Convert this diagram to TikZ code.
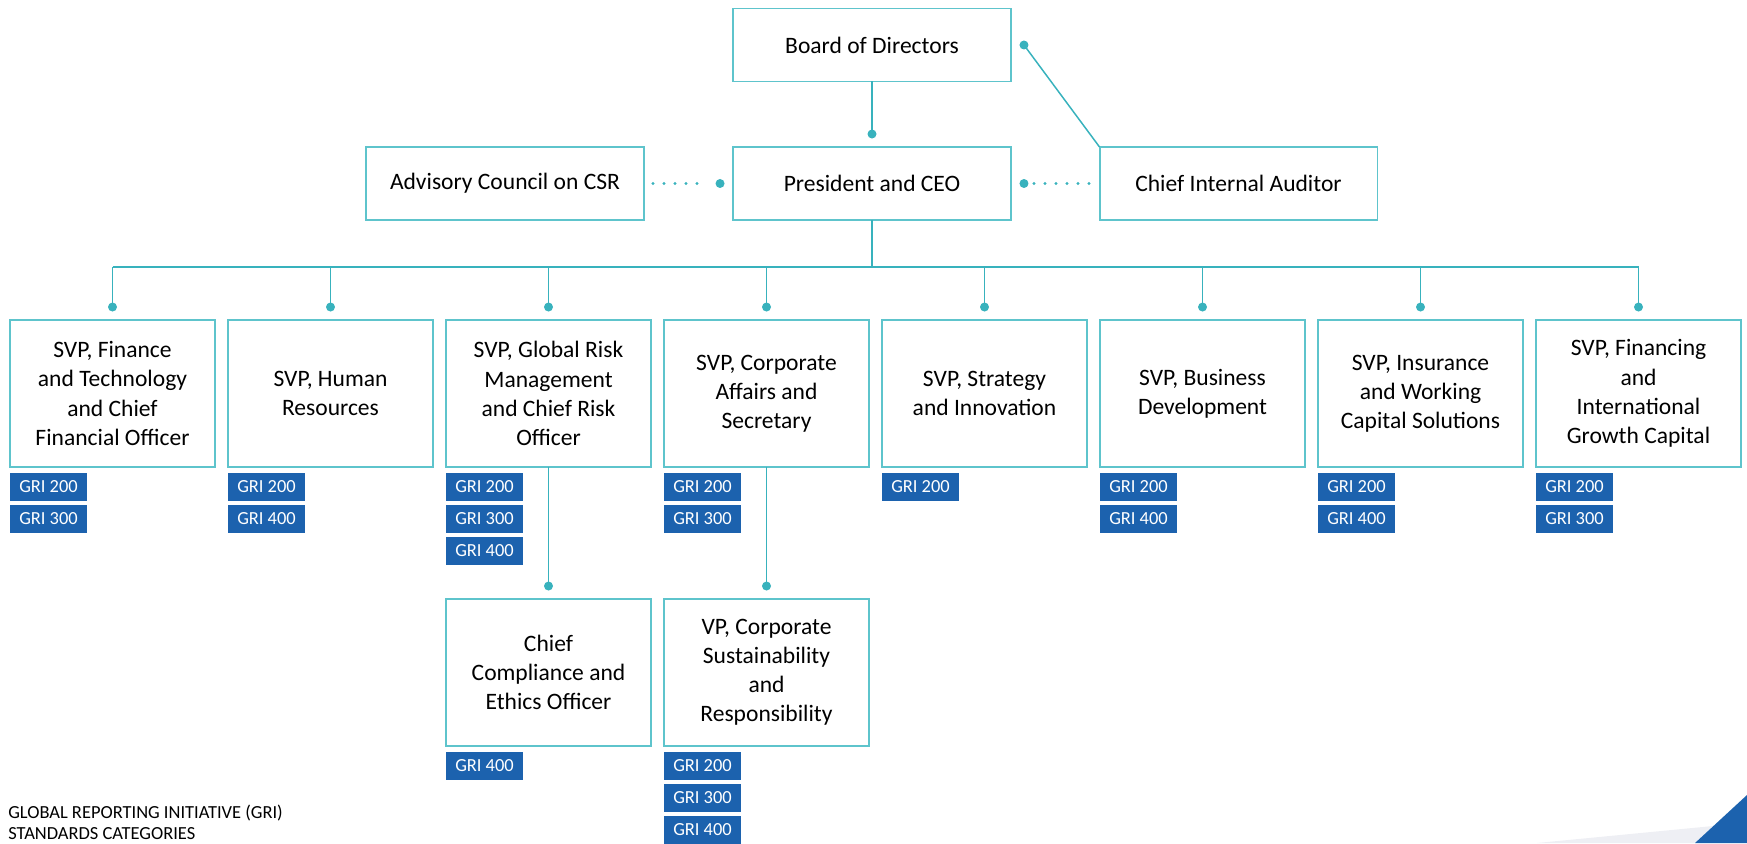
\documentclass[tikz,border=0pt]{standalone}
\usepackage{fontspec}
\setmainfont{Carlito}
\usetikzlibrary{positioning}
\definecolor{orgteal}{HTML}{38B2BD}
\definecolor{orgframe}{HTML}{5EC4CC}
\definecolor{grib}{HTML}{1C62AE}
\definecolor{wedge}{HTML}{EEEFF4}

\begin{document}
\begin{tikzpicture}[x=0.02cm,y=0.02cm,
    unit/.style={draw=orgframe, line width=1.1pt, fill=white, align=center, inner sep=0pt, outer sep=0pt, font=\fontsize{13.4}{16.6}\selectfont},
    topunit/.style={unit, minimum width=5.56cm, minimum height=1.46cm},
    svpunit/.style={unit, minimum width=4.1cm, minimum height=2.94cm},
    gri/.style={fill=grib, text=white, minimum width=1.54cm, minimum height=0.56cm, inner sep=0pt, outer sep=0pt, font=\fontsize{10.5}{12}\selectfont},
    knob/.style={circle, fill=orgteal, inner sep=0pt, minimum size=0.18cm},
    link/.style={draw=orgteal, line width=0.85pt},
    dots/.style={draw=orgteal, line width=1.8pt, line cap=round, dash pattern=on 0pt off 0.22cm}]
    \useasboundingbox (0,0) rectangle (1747,843);
    % corner mark
    \fill[wedge] (1537,0) -- (1713,17) -- (1695,0) -- cycle;
    \fill[grib] (1695,0) -- (1747,48) -- (1747,0) -- cycle;

    \node[topunit] (board) at (872,798) {Board of Directors};
    \node[topunit] (ceo) at (872,659.5) {President and CEO};
    \node[topunit] (csr) at (505,659.5) {Advisory Council on CSR};
    \node[topunit] (audit) at (1238.5,659.5) {Chief Internal Auditor};

    \node[knob] (kceo) at ([yshift=0.26cm]ceo.north) {};
    \node[knob] (kcsr) at ([xshift=-0.26cm]ceo.west) {};
    \node[knob] (kaudit) at ([xshift=0.26cm]ceo.east) {};
    \node[knob] (kboard) at ([xshift=0.26cm]board.east) {};
    \draw[link] (board.south) -- (kceo.center);
    \draw[link] (kboard.center) -- (audit.north west);
    \draw[dots] ([xshift=0.18cm]csr.east) -- ([xshift=-0.28cm]kcsr.center);
    \draw[dots] ([xshift=0.2cm]kaudit.center) -- ([xshift=-0.2cm]audit.west);

    % senior vice presidents
    \node[svpunit] (fin) at (112.5,449.5) {SVP, Finance\\and Technology\\and Chief\\Financial Officer};
    \node[svpunit] (hr) at (330.5,449.5) {SVP, Human\\Resources};
    \node[svpunit] (risk) at (548.5,449.5) {SVP, Global Risk\\Management\\and Chief Risk\\Officer};
    \node[svpunit] (corp) at (766.5,449.5) {SVP, Corporate\\Affairs and\\Secretary};
    \node[svpunit] (strat) at (984.5,449.5) {SVP, Strategy\\and Innovation};
    \node[svpunit] (biz) at (1202.5,449.5) {SVP, Business\\Development};
    \node[svpunit] (ins) at (1420.5,449.5) {SVP, Insurance\\and Working\\Capital Solutions};
    \node[svpunit] (intl) at (1638.5,449.5) {SVP, Financing\\and\\International\\Growth Capital};

    \coordinate (hub) at ([yshift=-0.94cm]ceo.south);
    \draw[link] (ceo.south) -- (hub);
    \foreach \n in {fin,hr,risk,corp,strat,biz,ins,intl}{
        \node[knob] (k\n) at ([yshift=0.26cm]\n.north) {};
        \draw[link] (k\n.center) -- (k\n.center |- hub);
    }
    \draw[link] (kfin.center |- hub) -- (kintl.center |- hub);

    % second level
    \node[svpunit] (comply) at (548.5,170.5) {Chief\\Compliance and\\Ethics Officer};
    \node[svpunit] (vpcsr) at (766.5,170.5) {VP, Corporate\\Sustainability\\and\\Responsibility};
    \node[knob] (kcomply) at ([yshift=0.26cm]comply.north) {};
    \node[knob] (kvpcsr) at ([yshift=0.26cm]vpcsr.north) {};
    \draw[link] (risk.south) -- (kcomply.center);
    \draw[link] (corp.south) -- (kvpcsr.center);

    % GRI tags
    \node[gri, anchor=north west] (fin200) at ([yshift=-0.12cm]fin.south west) {GRI 200};
    \node[gri, below=0.08cm of fin200] (fin300) {GRI 300};
    \node[gri, anchor=north west] (hr200) at ([yshift=-0.12cm]hr.south west) {GRI 200};
    \node[gri, below=0.08cm of hr200] (hr400) {GRI 400};
    \node[gri, anchor=north west] (risk200) at ([yshift=-0.12cm]risk.south west) {GRI 200};
    \node[gri, below=0.08cm of risk200] (risk300) {GRI 300};
    \node[gri, below=0.08cm of risk300] (risk400) {GRI 400};
    \node[gri, anchor=north west] (corp200) at ([yshift=-0.12cm]corp.south west) {GRI 200};
    \node[gri, below=0.08cm of corp200] (corp300) {GRI 300};
    \node[gri, anchor=north west] (strat200) at ([yshift=-0.12cm]strat.south west) {GRI 200};
    \node[gri, anchor=north west] (biz200) at ([yshift=-0.12cm]biz.south west) {GRI 200};
    \node[gri, below=0.08cm of biz200] (biz400) {GRI 400};
    \node[gri, anchor=north west] (ins200) at ([yshift=-0.12cm]ins.south west) {GRI 200};
    \node[gri, below=0.08cm of ins200] (ins400) {GRI 400};
    \node[gri, anchor=north west] (intl200) at ([yshift=-0.12cm]intl.south west) {GRI 200};
    \node[gri, below=0.08cm of intl200] (intl300) {GRI 300};
    \node[gri, anchor=north west] (comply400) at ([yshift=-0.12cm]comply.south west) {GRI 400};
    \node[gri, anchor=north west] (vpcsr200) at ([yshift=-0.12cm]vpcsr.south west) {GRI 200};
    \node[gri, below=0.08cm of vpcsr200] (vpcsr300) {GRI 300};
    \node[gri, below=0.08cm of vpcsr300] (vpcsr400) {GRI 400};

    \node[anchor=north west, align=left, inner sep=0pt, font=\fontsize{10.5}{11.6}\selectfont] (legend) at (8,38) {GLOBAL REPORTING INITIATIVE (GRI)\\STANDARDS CATEGORIES};
\end{tikzpicture}
\end{document}
